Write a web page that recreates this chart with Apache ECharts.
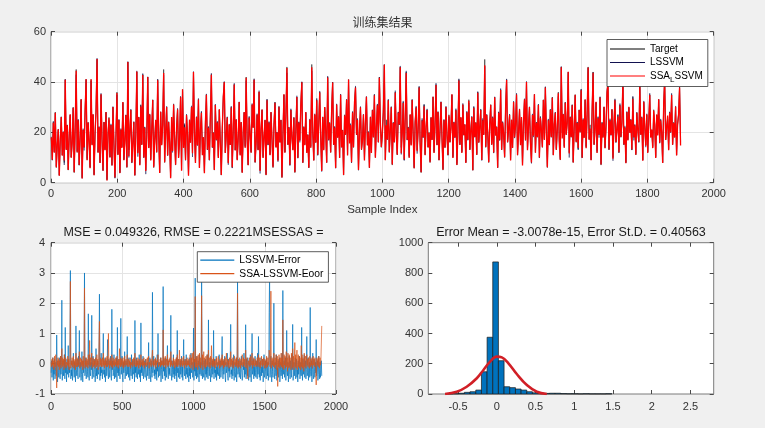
<!DOCTYPE html>
<html><head><meta charset="utf-8">
<script src="https://cdn.jsdelivr.net/npm/echarts@6/dist/echarts.min.js"></script>
<style>html,body{margin:0;padding:0;background:#f0f0f0}#c{width:765px;height:428px}</style>
</head><body><div id="c"></div>
<script>
// ---- data (one value per 3 samples) ----
const target = [
18,9,24,12,28,6,15,21,3,17,26,11,20,8,41,13,23,5,19,27,
10,16,30,4,22,45,12,25,7,18,33,2,21,14,29,41,9,24,16,6,
41,15,27,3,20,31,49,12,22,8,35,17,5,24,13,28,1,19,26,10,
23,7,30,15,2,18,36,11,25,4,21,14,32,9,17,27,6,48,13,20,
29,8,16,24,3,19,44,12,26,7,31,15,43,10,22,5,18,42,14,27,
9,21,33,6,17,25,12,41,19,4,28,15,23,45,8,20,30,11,24,16,
2,26,13,31,18,7,22,29,10,17,34,5,37,14,23,9,27,19,3,25,
16,30,12,44,20,8,26,15,33,6,21,28,11,18,4,24,35,13,22,9,
27,43,14,20,5,31,17,24,10,29,16,3,22,34,40,12,19,26,8,23,
15,30,6,21,39,13,25,9,18,32,11,24,4,20,28,14,42,17,7,26,
19,12,31,22,41,8,16,27,13,36,5,21,29,10,18,25,3,33,15,24,
11,28,17,6,23,32,14,20,9,30,16,25,2,19,35,12,27,46,15,22,
7,29,18,13,26,4,21,34,10,24,17,31,40,8,22,15,28,12,19,6,
25,14,47,20,9,27,16,33,11,23,36,18,5,26,13,30,21,8,42,17,
24,12,29,40,15,22,6,31,18,26,10,35,14,21,3,27,19,33,11,41,
16,23,8,28,14,32,38,19,25,5,21,30,13,17,27,9,24,34,15,20,
6,26,12,29,18,35,10,22,31,16,42,24,14,20,28,47,9,25,17,33,
12,21,30,7,24,16,36,19,11,28,23,46,14,20,32,9,26,44,17,22,
10,27,15,33,19,6,24,30,13,21,38,16,4,25,18,31,11,22,29,14,
20,8,26,17,34,12,23,39,15,28,9,21,32,18,5,25,14,30,19,11,
27,16,22,35,10,24,18,29,7,20,41,15,26,12,31,19,23,8,28,17,
33,13,21,26,5,30,18,24,11,36,16,22,29,9,25,19,49,14,27,20,
8,23,31,15,26,12,34,19,22,6,28,17,37,13,24,20,10,30,41,16,
21,27,9,25,14,32,18,23,35,11,20,29,15,26,7,24,33,17,40,13,
22,30,16,8,27,19,35,12,24,18,31,10,26,21,14,33,17,38,20,6,
25,15,29,18,34,11,23,28,13,21,36,17,9,46,20,27,14,32,19,24,
44,12,26,18,31,8,22,35,16,24,13,29,20,37,10,25,18,33,14,27,
46,17,23,9,28,44,15,21,32,12,26,19,34,7,24,18,30,14,22,36,
40,13,25,19,29,10,23,33,16,21,27,12,31,18,24,41,15,22,8,28,
17,30,20,25,13,34,18,23,11,28,21,16,39,19,26,9,32,22,15,27,
12,24,35,18,21,14,29,23,10,27,19,33,16,25,20,8,31,41,17,22,
26,13,28,20,35,15,24,18,30,11,23,27,38,16
];
const lssvmErr = [
-.3,.1,-.45,-.2,.2,-.55,-.1,-.35,.15,-.5,-.25,.05,-.4,.95,-.15,-.6,.1,-.3,-.45,.2,
-.2,-.5,.25,-.35,-.1,2.1,-.55,-.25,.1,-.4,-.15,.3,-.5,1.2,-.3,-.05,-.6,.15,-.35,-.2,
.6,-.45,-.1,-.3,.2,3.08,-.5,-.2,-.4,.1,-.55,-.25,.35,-.15,-.45,.05,-.35,-.6,1.25,-.2,
-.4,.15,-.3,-.5,.25,-.1,1.1,-.45,-.2,.05,-.55,-.35,.4,-.25,-.6,.1,-.3,-.15,3.0,-.4,
-.2,.2,-.5,-.35,.1,-.25,-.45,1.65,-.15,-.55,.3,-.3,-.4,.05,-.2,1.6,-.5,-.1,.25,-.35,
-.45,-.2,.15,-.6,-.3,.5,-.4,-.15,-.5,.1,-.25,-.35,.2,2.3,-.55,-.1,-.4,.35,-.3,-.2,
-.5,.05,1.0,-.35,-.2,-.45,.2,-.6,-.25,.1,-.4,-.15,.8,-.3,-.5,.15,-.2,-.45,-.1,.25,
-.35,-.55,1.8,-.2,.1,-.4,-.3,.3,-.5,-.15,.05,-.45,-.25,.2,-.6,1.2,-.3,-.1,-.4,.15,
-.25,-.5,.1,1.5,-.35,-.2,.25,-.45,-.6,.05,-.3,-.15,.4,-.5,-.25,.1,-.4,-.2,.9,-.35,
-.1,-.45,.2,-.3,-.55,.05,-.2,-.4,.3,-.15,-.5,.1,-.35,-.25,.15,-.6,1.43,-.3,-.1,-.45,
.2,-.25,-.5,.1,-.35,-.15,.3,-.45,-.2,-.6,1.35,-.3,.05,-.4,-.1,.25,-.5,-.25,.1,-.35,
-.45,.15,-.2,-.55,-.3,.05,-.4,-.15,.7,-.5,-.25,.2,-.35,-.6,.1,-.2,-.45,2.36,-.3,-.1,
.25,-.4,-.2,-.5,.15,-.35,-.1,-.55,.3,-.25,1.0,-.45,-.15,.05,-.4,-.3,.2,-.6,-.2,.1,
-.35,-.5,2.55,-.25,.15,-.4,-.1,-.55,.2,-.3,-.45,.05,.6,-.2,-.5,.1,-.35,-.15,-.4,.25,
1.6,-.3,-.55,.1,-.2,-.45,.3,-.35,-.1,-.5,.05,-.25,-.4,.2,-.6,1.1,-.3,-.15,-.45,.15,
-.2,-.5,.1,-.35,-.25,.25,-.45,-.1,-.55,.05,.8,-.3,-.4,.15,-.2,-.5,.3,-.35,-.15,-.45,
.1,-.25,-.6,.2,-.4,-.15,-.5,.35,-.3,-.2,.05,-.45,-.35,1.18,-.55,.15,-.25,2.83,-.4,-.1,
-.5,.25,-.3,-.45,.1,-.2,-.6,.3,-.35,-.15,.05,-.4,2.78,-.25,-.5,.2,-.3,-.45,.1,-.2,
-.55,.15,-.35,-.1,-.45,.3,-.25,-.5,1.45,-.2,-.4,.05,-.3,-.6,.2,-.15,-.45,.1,-.35,-.25,
1.1,-.5,.15,-.3,-.2,-.45,.25,-.55,-.1,-.35,.05,-.4,-.25,.3,-.5,-.15,.1,-.45,-.3,.2,
.9,-.25,-.5,.1,-.35,-.2,.25,-.45,-.6,.05,-.3,-.15,.35,-.4,-.55,.15,-.25,-.1,-.45,.2,
1.3,-.35,-.2,-.5,.1,-.4,-.15,.3,-.55,-.25,.05,-.45,-.3,.2,-.6,-.1,2.72,-.35,-.2,.15,
-.45,-.25,.1,-.5,-.3,.25,-.15,-.55,-.4,.05,-.2,.35,-.45,-.1,-.35,1.29,-.5,.15,-.25,-.4,
.2,-.3,-.55,.1,-.15,-.45,.3,-.25,-.6,.05,1.0,-.35,-.2,.15,-.5,-.1,-.4,.25,-.3,-.45,
.1,-.2,-.5,.35,-.35,.9,-.15,-.45,.05,-.55,-.25,.2,-.4,-.1,-.3,.15,-.6,-.2,.3,-.45,
-.35,.1,-.25,-.5,.2,-.15,-.4,.05,-.55,-.3,1.7,2.95,-.45,-.2,.25,-.35,-.6,.1,-.25,-.45,
.15,2.0,-.3,-.5,.05,-.2,-.4,.3,-.55,-.15,-.35,.1,-.45,-.25,.2,-.6,-.3,.05,-.4,-.2,
.35,-.5,2.42,-.15,-.35,.1,-.45,-.25,.2,-.55,-.3,1.1,-.2,-.4,.05,-.6,-.15,.25,-.35,-.5,
.1,-.25,-.45,.3,-.2,1.3,-.55,-.35,.05,-.4,-.1,.2,-.5,-.3,.15,-.45,-.2,-.6,.1,-.35,
-.15,.25,-.5,-.3,.05,-.4,1.2,-.2,-.55,.15,-.35,-.1,.3,-.45,-.25,.1,-.5,-.2,.9,-.4,
-.3,.2,-.55,-.15,.05,-.45,1.86,-.25,-.4,.1,-.6,-.2,.35,-.35,-.5,.15,-.25,-.45,.05,-.3,
.8,-.4,-.2,.1,-.55,-.35,.25,-.15,-.5,.05,-.45,-.3,.1,-.4
];
const ssaErr = [
.05,-.1,.15,-.05,.2,-.15,.1,-.2,.25,0,-.1,.3,-.15,-.8,.1,-.05,.2,-.1,.15,-.2,
.1,-.05,.25,-.15,.05,.5,-.1,.2,-.05,.15,-.2,.3,0,-.1,.2,-.15,.05,.1,-.05,.25,
-.1,.15,-.2,.05,.3,2.72,-.15,.1,-.05,.2,-.1,.05,.25,-.15,.1,-.05,.15,-.2,.35,-.1,
.05,.2,-.1,.15,-.05,.1,.4,-.15,.05,.2,-.1,.15,-.05,.1,-.2,.25,-.1,.05,2.5,-.15,
.1,-.05,.2,-.1,.15,.05,-.15,.3,-.05,.1,.77,-.1,.2,-.05,.15,.35,-.15,.05,.2,-.1,
.15,-.05,.1,-.15,.2,.05,-.1,.3,-.05,.15,-.2,.1,.05,1.4,-.1,.2,-.05,.15,-.1,.05,
.2,-.1,.35,-.05,.1,-.15,.15,-.05,.2,-.1,.05,.25,-.1,.15,1.0,-.05,.1,-.15,.2,-.05,
.1,-.1,.3,.05,-.15,.2,-.05,.1,-.1,.15,-.05,.2,.05,-.1,.25,-.05,.1,-.15,.15,-.05,
.5,.1,-.1,.2,-.05,.15,-.1,.05,.2,-.15,.1,-.05,.25,-.1,.05,.15,-.05,.1,.3,-.1,
.05,.15,-.1,.1,-.05,.2,-.15,.05,.1,-.05,.15,-.1,.05,.2,-.05,.1,.35,-.1,.05,.15,
-.1,.1,-.05,.2,.05,-.15,.15,-.05,.1,-.1,.3,.05,-.05,.15,-.1,.1,-.05,.2,-.15,.05,
.1,-.05,.15,-.1,.05,.2,-.05,.1,.25,-.15,.05,.1,-.05,.15,-.1,.05,.1,.45,-.05,.1,
-.1,.15,-.05,.05,.2,-.15,.1,-.05,.15,.05,.3,-.1,.05,.1,-.05,.15,-.1,.2,-.05,.1,
-.05,.15,1.12,-.1,.2,-.05,.1,.25,-.15,.05,.15,-.05,.3,-.1,.1,-.05,.15,.05,.2,-.1,
.4,-.05,.1,.15,-.1,.05,.2,-.05,.1,-.15,.15,.05,-.1,.2,-.05,.3,-.1,.05,.15,-.05,
.45,.1,-.1,.15,-.05,.05,.2,-.1,.1,-.05,.25,.05,-.15,.1,-.05,.15,.05,-.1,.2,-.05,
.1,-.05,.15,.2,-.1,.3,.05,-.15,.2,-.05,.35,.1,-.2,.4,-.1,.15,.05,2.22,-.15,.2,
-.1,.25,.05,-.2,.3,-.05,.15,.35,-.1,.2,-.15,.1,2.25,-.05,.3,-.2,.15,.4,-.1,.2,
.05,-.15,.25,.1,-.1,.3,-.05,.15,.45,-.1,.2,.05,-.15,.25,-.05,.6,.1,-.1,.15,-.05,
.2,-.1,.1,.05,-.15,.15,-.05,.2,.1,-.1,.05,.25,-.05,.1,-.15,.15,.05,-.1,.2,-.05,
.3,-.05,.1,-.15,.15,.05,-.1,.2,-.05,.1,.35,-.1,.05,.15,-.05,.1,-.15,.2,.05,-.1,
.4,-.05,.15,-.1,.05,.2,-.15,.1,-.05,.25,.05,-.1,.15,-.05,.2,-.1,2.33,-.15,.1,.05,
-.1,.2,.05,-.15,.15,-.05,.1,.3,-.1,.05,.2,-.05,.15,-.1,.1,.45,-.15,.05,.2,-.05,
-.5,.1,.15,-.05,.2,-.1,.05,.25,-.05,.1,.35,-.15,.1,-.05,.2,.05,-.1,.15,-.05,.1,
.05,-.1,.2,-.05,.15,.3,-.1,.05,.2,-.15,.1,-.05,.25,.05,-.1,.15,-.05,.2,.1,-.15,
.15,-.05,.1,-.15,.25,.05,-.1,.2,-.05,.1,.45,.3,-.1,.15,2.4,-.15,.1,.2,-.05,.15,
-.1,.35,.05,-.15,.2,-.05,.3,.1,-.2,.25,-.75,.15,-.1,.3,.05,-.15,.2,-.05,.35,-.1,
.2,-.15,1.45,.1,-.2,.3,-.05,.25,-.15,.15,.4,-.1,.2,-.25,.35,.05,-.15,.3,-.1,.2,
.15,-.2,.35,.05,-.15,.5,-.1,.25,-.2,.15,.7,-.1,.3,-.15,.2,.45,-.2,.1,.3,-.1,
.25,-.15,.2,.05,-.2,.6,-.1,.3,-.15,.2,.05,-.25,.35,-.1,.15,.25,-.15,.1,.3,-.05,
.15,-.1,.2,.05,-.15,.25,.3,-.1,.15,-.05,.2,-.15,.1,.25,-.05,.15,-.1,.2,.05,-.1,
-.7,.1,.2,-.05,.15,-.1,.25,.05,-.15,.2,-.05,.1,.15,1.25
];
const sampleStep = 3;
const topNames = ['Target', 'LSSVM', 'SSA_LSSVM'];
const errNames = ['LSSVM-Error', 'SSA-LSSVM-Eoor'];
const histEdges = [-0.637,-0.564,-0.491,-0.418,-0.345,-0.271,-0.198,-0.125,-0.052,0.021,0.094,0.167,0.241,0.314,0.387,0.460,0.533,0.606,0.680,0.753,0.826,0.899,0.973,1.046,1.119,1.192,1.265,1.339,1.412,1.485];
const histCounts = [1,2,5,11,15,26,147,375,873,220,48,42,33,26,15,8,5,4,5,5,3,2,2,1,2,1,1,1,2];
const fitX = [-0.668,-0.517,-0.388,-0.258,-0.172,-0.086,0,0.065,0.15,0.258,0.388,0.517,0.646];
const fitY = [0,15,48,104,159,214,247,242,203,132,59,15,0];
const histTicks = [-0.5,0,0.5,1,1.5,2,2.5];
const titleTop = '训练集结果';
const titleErr = 'MSE = 0.049326, RMSE = 0.2221MSESSAS =';
const titleHist = 'Error Mean = -3.0078e-15, Error St.D. = 0.40563';

// ---- build ----
const FONT = '"Liberation Sans", Arial, Helvetica, sans-serif';
const idx = i => 1 + i * sampleStep;
const targetData = target.map((v, i) => [idx(i), v]);
const lssvmData = target.map((v, i) => [idx(i), v - lssvmErr[i]]);
const ssaData = target.map((v, i) => [idx(i), v - ssaErr[i]]);
const e1Data = lssvmErr.map((v, i) => [idx(i), v]);
const e2Data = ssaErr.map((v, i) => [idx(i), v]);
const histData = histCounts.map((c, i) => [histEdges[i], histEdges[i + 1], c]);
const fitData = fitX.map((x, i) => [x, fitY[i]]);

function mkAxis(gridIndex, position, min, max, interval, showLabel, showSplit, margin) {
  return {
    type: 'value', gridIndex, position, min, max, interval,
    axisLine: { show: false, onZero: false },
    axisTick: { show: true, inside: false, length: -4, lineStyle: { color: '#4a4a4a', width: 1 } },
    axisLabel: { show: showLabel, color: '#333', fontSize: 11, fontFamily: FONT, margin: margin || 6,
      formatter: v => String(+v.toFixed(6)) },
    splitLine: { show: showSplit, lineStyle: { color: '#e4e4e4', width: 1 } },
    nameTextStyle: { color: '#333', fontSize: 11.5, fontFamily: FONT }
  };
}
const xAxes = [
  Object.assign(mkAxis(0, 'bottom', 0, 2000, 200, true, true, 6), { name: 'Sample Index', nameLocation: 'middle', nameGap: 21 }),
  mkAxis(0, 'top', 0, 2000, 200, false, false),
  mkAxis(1, 'bottom', 0, 2000, 500, true, true, 7),
  mkAxis(1, 'top', 0, 2000, 500, false, false),
  mkAxis(2, 'bottom', -0.884, 2.8, undefined, true, false, 7),
  mkAxis(2, 'top', -0.884, 2.8, undefined, false, false)
];
xAxes[4].axisLabel.customValues = histTicks;
xAxes[4].axisTick.customValues = histTicks;
xAxes[5].axisTick.customValues = histTicks;
const yAxes = [
  mkAxis(0, 'left', 0, 60, 20, true, true, 5),
  mkAxis(0, 'right', 0, 60, 20, false, false),
  mkAxis(1, 'left', -1, 4, 1, true, true, 6),
  mkAxis(1, 'right', -1, 4, 1, false, false),
  mkAxis(2, 'left', 0, 1000, 200, true, false, 5),
  mkAxis(2, 'right', 0, 1000, 200, false, false)
];
const gridBase = { show: true, backgroundColor: '#fff', borderColor: '#7a7a7a', borderWidth: 1, containLabel: false, outerBoundsMode: 'none' };
const lineBase = (name, xi, data, color, w) => ({
  name, type: 'line', xAxisIndex: xi, yAxisIndex: xi, data, showSymbol: false, symbol: 'none',
  lineStyle: { color, width: w }, itemStyle: { color }, emphasis: { disabled: true }, silent: true
});
const legendText = { fontSize: 10, fontFamily: FONT, color: '#000', lineHeight: 13,
  rich: { sub: { fontSize: 8, fontFamily: FONT, color: '#000', padding: [7, 0, 0, 0] } } };

const option = {
  animation: false,
  backgroundColor: '#f0f0f0',
  title: [
    { text: titleTop, left: 'center', top: 16.5, padding: 0, textStyle: { fontSize: 12, fontWeight: 'normal', color: '#333', fontFamily: '"Noto Sans CJK SC", sans-serif' } },
    { text: titleErr, left: 193.5, textAlign: 'center', top: 226, padding: 0, textStyle: { fontSize: 12.5, fontWeight: 'normal', color: '#1a1a1a', fontFamily: FONT } },
    { text: titleHist, left: 571, textAlign: 'center', top: 226, padding: 0, textStyle: { fontSize: 12.5, fontWeight: 'normal', color: '#1a1a1a', fontFamily: FONT } }
  ],
  grid: [
    Object.assign({ left: 51, top: 31.7, width: 662.7, height: 151 }, gridBase),
    Object.assign({ left: 51, top: 242.7, width: 285, height: 151.3 }, gridBase),
    Object.assign({ left: 428.3, top: 242.7, width: 285.4, height: 151.3 }, gridBase)
  ],
  xAxis: xAxes,
  yAxis: yAxes,
  legend: [
    { data: topNames, orient: 'vertical', left: 607, top: 39.5, padding: [3, 5, 3, 3], itemGap: 0.5,
      itemWidth: 35, itemHeight: 1.1, icon: 'rect', backgroundColor: '#fff', borderColor: '#333', borderWidth: 0.8,
      textStyle: legendText, formatter: n => n === 'SSA_LSSVM' ? 'SSA{sub|L}SSVM' : n, selectedMode: false },
    { data: errNames, orient: 'vertical', left: 197.3, top: 251.7, padding: [2, 5, 2, 3], itemGap: 0.5,
      itemWidth: 34, itemHeight: 1.2, icon: 'rect', backgroundColor: '#fff', borderColor: '#333', borderWidth: 0.8,
      textStyle: { fontSize: 10.3, fontFamily: FONT, color: '#000', lineHeight: 13 }, selectedMode: false }
  ],
  series: [
    lineBase('Target', 0, targetData, '#000000', 0.5),
    lineBase('LSSVM', 0, lssvmData, '#121250', 0.5),
    lineBase('SSA_LSSVM', 0, ssaData, '#ff0000', 1.3),
    lineBase('LSSVM-Error', 2, e1Data, '#0072BD', 0.7),
    lineBase('SSA-LSSVM-Eoor', 2, e2Data, '#D95319', 0.7),
    {
      name: 'hist', type: 'custom', xAxisIndex: 4, yAxisIndex: 4, data: histData, silent: true,
      encode: { x: [0, 1], y: 2 },
      renderItem: (params, api) => {
        const p0 = api.coord([api.value(0), api.value(2)]);
        const p1 = api.coord([api.value(1), 0]);
        return { type: 'rect', shape: { x: p0[0], y: p0[1], width: p1[0] - p0[0], height: p1[1] - p0[1] },
          style: { fill: '#0072BD', stroke: '#1a1a1a', lineWidth: 0.7 } };
      }
    },
    Object.assign(lineBase('fit', 4, fitData, '#d11f26', 2.6), { smooth: 0.4, z: 5 })
  ]
};
const chart = echarts.init(document.getElementById('c'));
chart.setOption(option);
</script>
</body></html>
